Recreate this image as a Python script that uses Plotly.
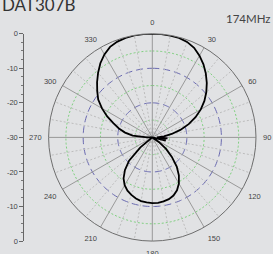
import plotly.graph_objects as go

# ---- data ----
angles = [0, 5, 10, 15, 20, 25, 30, 35, 40, 45, 50, 55, 60, 65, 70, 75, 80, 85, 89, 94, 99, 103,
          108, 110, 115, 120, 125, 130, 135, 140, 145, 150, 155, 160, 165, 170, 175, 180, 185,
          190, 195, 200, 205, 210, 215, 220, 225, 230, 235, 240, 245, 250, 255, 260, 265, 270,
          275, 280, 285, 290, 295, 300, 305, 310, 315, 320, 325, 330, 335, 340, 345, 350, 355, 360]
gain_db = [0.0, 0.0, -0.1, -0.2, -0.6, -1.4, -2.7, -4.2, -5.9, -7.7, -9.6, -11.6, -13.8, -16.2,
           -18.8, -21.6, -24.3, -26.6, -28.6, -25.6, -27.6, -26.0,
           -30.0, -30.0, -30.0, -30.0, -27.6, -24.8, -22.0, -19.0, -16.6, -14.6, -13.1, -12.1,
           -11.5, -11.2, -11.0, -11.0, -11.1, -11.3, -11.7, -12.3, -13.0, -14.0, -15.5, -17.7,
           -20.5, -25.5, -30.0, -30.0, -30.0, -30.0, -30.0, -30.0, -30.0, -28.5,
           -24.3, -22.0, -20.0, -18.0, -15.6, -13.2, -10.9, -9.2, -7.4, -5.6, -3.8, -2.3, -1.1,
           -0.5, -0.2, -0.05, 0.0, 0.0]

angle_ticks = list(range(0, 360, 30))
angle_labels = [str(a) for a in angle_ticks]
major_spokes = list(range(0, 360, 30))
minor_spokes = [a for a in range(0, 360, 10) if a % 30 != 0]
ring_dotted = [-25, -15, -5]
ring_dashed = [-20, -10]
r_min, r_max = -30, 0

side_tickvals = [30, 20, 10, 0, -10, -20, -30]
side_ticktext = ["0", "-10", "-20", "-30", "-20", "-10", "0"]

title_text = "DAT307B"
freq_text = "174MHz"

# ---- styling ----
W, H = 273, 254
BG = "#e1e2e4"
cx, cy, R = 152.3, 138.3, 107.5

fig = go.Figure()

ring_theta = list(range(0, 361, 2))
for lvl in ring_dotted:
    fig.add_trace(go.Scatterpolar(r=[lvl] * len(ring_theta), theta=ring_theta, mode="lines",
                                  line=dict(color="#7fcf7f", width=1, dash="2px,2px"),
                                  hoverinfo="skip", showlegend=False))
for lvl in ring_dashed:
    fig.add_trace(go.Scatterpolar(r=[lvl] * len(ring_theta), theta=ring_theta, mode="lines",
                                  line=dict(color="#6a6ab0", width=1, dash="7px,4px"),
                                  hoverinfo="skip", showlegend=False))
for a in minor_spokes:
    fig.add_trace(go.Scatterpolar(r=[r_min, r_max], theta=[a, a], mode="lines",
                                  line=dict(color="#bcbcbc", width=1, dash="2px,2px"),
                                  hoverinfo="skip", showlegend=False))
for a in major_spokes:
    fig.add_trace(go.Scatterpolar(r=[r_min, r_max], theta=[a, a], mode="lines",
                                  line=dict(color="#999999", width=1),
                                  hoverinfo="skip", showlegend=False))

fig.add_trace(go.Scatterpolar(r=gain_db, theta=angles, mode="lines",
                              line=dict(color="#000000", width=1.8),
                              showlegend=False))

# dummy cartesian trace to host the side scale
fig.add_trace(go.Scatter(x=[], y=[], xaxis="x", yaxis="y", showlegend=False))

fig.update_layout(
    width=W, height=H,
    margin=dict(l=0, r=0, t=0, b=0),
    paper_bgcolor=BG, plot_bgcolor=BG,
    font=dict(family="Arial, Liberation Sans, sans-serif", color="#444"),
    polar=dict(
        domain=dict(x=[(cx - R) / W, (cx + R) / W], y=[(H - cy - R) / H, (H - cy + R) / H]),
        bgcolor=BG,
        radialaxis=dict(range=[r_min, r_max], visible=False, showgrid=False),
        angularaxis=dict(direction="clockwise", rotation=90, showgrid=False,
                         tickmode="array", tickvals=angle_ticks, ticktext=angle_labels,
                         ticks="outside", ticklen=5, tickcolor="rgba(0,0,0,0)",
                         showline=True, linecolor="#6e6e6e", linewidth=1,
                         tickfont=dict(size=7.5, color="#444")),
    ),
    xaxis=dict(domain=[0, 23.3 / W], range=[0, 1], visible=False),
    yaxis=dict(anchor="free", position=23.3 / W, side="left",
               domain=[(H - cy - R) / H, (H - cy + R) / H], range=[-30, 30],
               showline=True, linecolor="#666", linewidth=1,
               tickmode="array", tickvals=side_tickvals, ticktext=side_ticktext,
               ticks="outside", ticklen=4, tickcolor="#666",
               minor=dict(tickmode="linear", tick0=0, dtick=2.5, ticks="outside",
                          ticklen=2, tickcolor="#777", showgrid=False),
               tickfont=dict(size=7.5, color="#444"),
               showgrid=False, zeroline=False),
    annotations=[
        dict(text=title_text, x=0, xanchor="left", xref="paper", y=(H - 0.5) / H,
             yref="paper", yanchor="middle", showarrow=False,
             font=dict(size=17, color="#333", family="Lato, sans-serif")),
        dict(text=freq_text, x=248 / W, xanchor="center", xref="paper", y=(H - 15) / H,
             yref="paper", yanchor="middle", showarrow=False,
             font=dict(size=11.5, color="#444", family="Lato, sans-serif")),
    ],
)

fig.write_html("out.html", config={"displayModeBar": False},
               post_script="document.body.style.margin='0';document.body.style.overflow='hidden';")
